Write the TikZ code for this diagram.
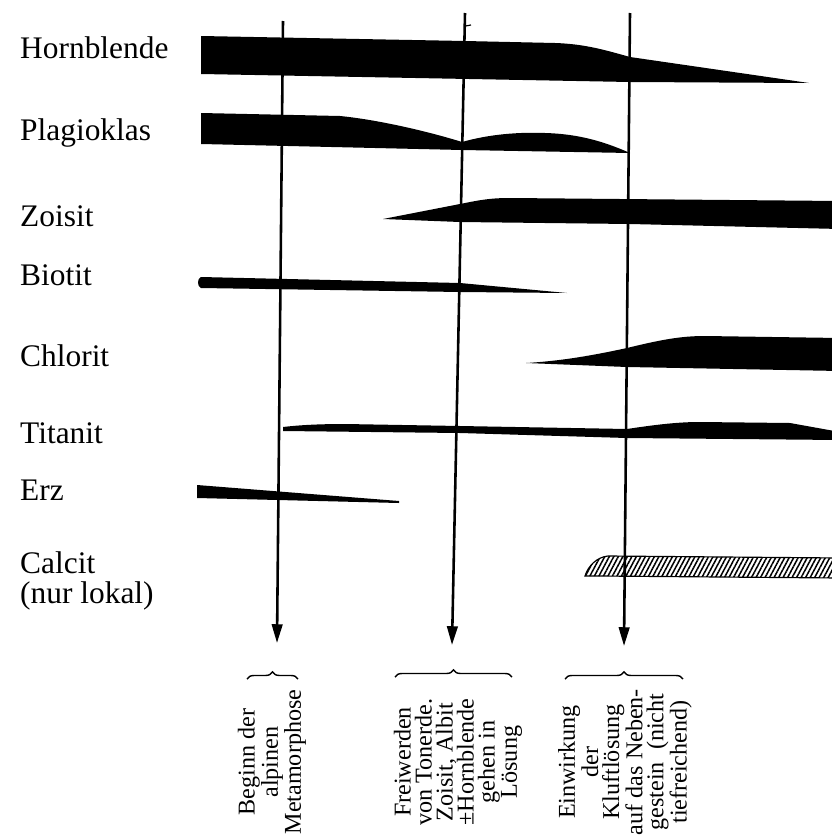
\documentclass[tikz,border=0pt]{standalone}
\usepackage{fontspec}
\setmainfont{Liberation Serif}
\usetikzlibrary{arrows.meta,decorations.pathreplacing,patterns.meta}

\begin{document}
\begin{tikzpicture}[
x=0.03cm, y=-0.03cm,
band/.style={fill=black},
hatch/.style={draw=black, line width=1pt, pattern={Lines[angle=62,distance=3.4pt,line width=1.3pt]}},
arr/.style={-{Triangle[length=16pt,width=9pt]}, line width=2.2pt},
brc/.style={decorate, decoration={brace,amplitude=6pt,aspect=0.5}, line width=1.2pt},
mineral/.style={anchor=base west, font=\fontsize{26.8}{30}\selectfont, inner sep=0pt},
note/.style={rotate=90, align=center, font=\fontsize{20.6}{17.9}\selectfont, inner sep=0pt}
]
\useasboundingbox (0,0) rectangle (831,837);

% minerals
\node[mineral] (hbl) at (20,58) {Hornblende};
\node[mineral] (plag) at (20,140) {Plagioklas};
\node[mineral] (zoi) at (20,226) {Zoisit};
\node[mineral] (bio) at (20,285) {Biotit};
\node[mineral] (chl) at (20,366) {Chlorit};
\node[mineral] (tit) at (20,443) {Titanit};
\node[mineral] (erz) at (20,500) {Erz};
\node[mineral] (cal) at (20,573) {Calcit};
\node[mineral] (lok) at (20,603) {(nur~lokal)};

% bands
\fill[band] (201,36) -- (465,41) -- (555,43) .. controls (585,44) and (605,50) .. (630,57)
  -- (809,83) -- (630,82) -- (201,74) -- cycle;
\fill[band] (201,113) -- (340,116) .. controls (380,120) and (430,132) .. (462,142)
  .. controls (490,134) and (520,132) .. (545,133) .. controls (580,134) and (605,142) .. (630,153)
  -- (462,150) -- (201,144) -- cycle;
\fill[band] (383,219) -- (460,204) .. controls (480,200) and (490,198) .. (510,198)
  -- (840,201) -- (840,229) -- (630,224) -- (460,222) -- cycle;
\fill[band] (201,277) -- (460,283) -- (567,293) -- (460,292) -- (201,288)
  .. controls (197,287) and (197,278) .. (201,277);
\fill[band] (526,363) .. controls (560,361) and (590,356) .. (627,348)
  .. controls (660,340) and (680,336) .. (705,336) -- (840,338) -- (840,371) -- (627,367) -- cycle;
\fill[band] (283,427) .. controls (300,425) and (320,424) .. (345,424) -- (460,426) -- (627,429)
  .. controls (660,424) and (680,422) .. (700,422) -- (790,423) -- (840,432)
  -- (840,440) -- (627,438) -- (460,433) -- (283,431) -- cycle;
\fill[band] (197,485) -- (399,501) -- (399,503) -- (197,498) -- cycle;
\path[hatch] (585,576) .. controls (588,566) and (597,557) .. (608,556) -- (840,558)
  -- (840,578) -- (600,576) -- cycle;

% arrows
\coordinate (a1) at (283,21);  \coordinate (e1) at (277,643);
\coordinate (a2) at (465,13);  \coordinate (e2) at (452,645);
\coordinate (a3) at (630,13);  \coordinate (e3) at (624,646);
\draw[arr] (a1) -- (e1);
\draw[arr] (a2) -- (e2);
\draw[arr] (a3) -- (e3);
\draw[line width=1pt] (465.5,26) -- (471,25);

% braces
\coordinate (bl1) at (247,679); \coordinate (br1) at (298,679);
\coordinate (bl2) at (395,677); \coordinate (br2) at (512,677);
\coordinate (bl3) at (565,679); \coordinate (br3) at (683,679);
\draw[brc] (bl1) -- (br1);
\draw[brc] (bl2) -- (br2);
\draw[brc] (bl3) -- (br3);

% notes
\node[note] (n1) at (272,762) {Beginn der\\alpinen\\Metamorphose};
\node[note] (n2) at (458,762) {Freiwerden\\von Tonerde.\\Zoisit, Albit\\±Hornblende\\gehen in\\Lösung};
\node[note] (n3) at (625,762) {Einwirkung\\der\\Kluftlösung\\auf das Neben-\\gestein~~(nicht\\tiefreichend)};
\end{tikzpicture}
\end{document}
